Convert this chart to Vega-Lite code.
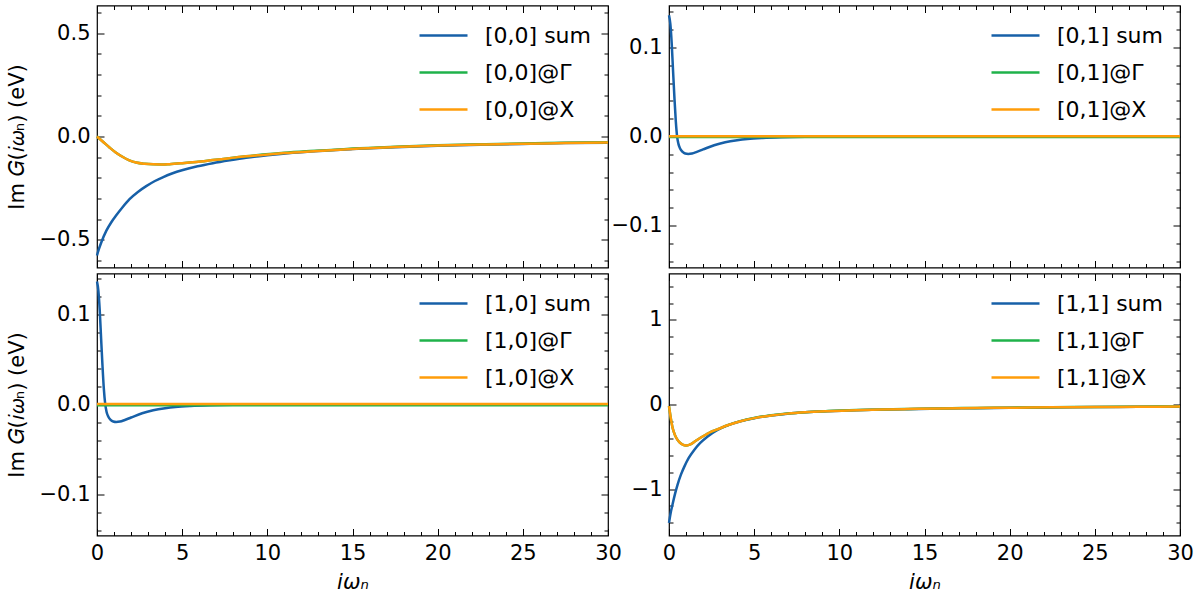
{
  "$schema": "https://vega.github.io/schema/vega-lite/v6.json",
  "padding": {"left": 5, "top": 3.5, "right": 5, "bottom": 5},
  "config": {
    "font": "DejaVu Sans",
    "view": {"stroke": "black", "strokeWidth": 1.2},
    "axis": {
      "domain": false, "grid": false,
      "tickColor": "black", "tickWidth": 1,
      "labelFont": "DejaVu Sans", "labelFontSize": 21, "labelColor": "black",
      "labelPadding": 14, "labelFlush": false, "labelOverlap": false, "labelBound": false,
      "titleFont": "DejaVu Sans", "titleFontSize": 21, "titleFontWeight": "normal", "titleColor": "black"
    },
    "legend": {
      "orient": "none", "legendX": 321, "legendY": 4.5, "padding": 0,
      "labelFont": "DejaVu Sans", "labelFontSize": 22, "labelColor": "black",
      "symbolType": "stroke", "symbolStrokeWidth": 2.5, "symbolSize": 2304,
      "labelOffset": 16, "rowPadding": 0
    }
  },
  "data": {
    "values": [
      {"p": "00", "s": "[0,0] sum", "x": 0, "y": -0.575},
      {"p": "00", "s": "[0,0] sum", "x": 0.1, "y": -0.547},
      {"p": "00", "s": "[0,0] sum", "x": 0.25, "y": -0.512},
      {"p": "00", "s": "[0,0] sum", "x": 0.55, "y": -0.455},
      {"p": "00", "s": "[0,0] sum", "x": 0.85, "y": -0.413},
      {"p": "00", "s": "[0,0] sum", "x": 1.13, "y": -0.381},
      {"p": "00", "s": "[0,0] sum", "x": 1.5, "y": -0.342},
      {"p": "00", "s": "[0,0] sum", "x": 1.91, "y": -0.303},
      {"p": "00", "s": "[0,0] sum", "x": 2.4, "y": -0.268},
      {"p": "00", "s": "[0,0] sum", "x": 2.89, "y": -0.24},
      {"p": "00", "s": "[0,0] sum", "x": 3.4, "y": -0.215},
      {"p": "00", "s": "[0,0] sum", "x": 3.86, "y": -0.197},
      {"p": "00", "s": "[0,0] sum", "x": 4.4, "y": -0.179},
      {"p": "00", "s": "[0,0] sum", "x": 5.04, "y": -0.162},
      {"p": "00", "s": "[0,0] sum", "x": 5.9, "y": -0.144},
      {"p": "00", "s": "[0,0] sum", "x": 6.8, "y": -0.129},
      {"p": "00", "s": "[0,0] sum", "x": 7.8, "y": -0.115},
      {"p": "00", "s": "[0,0] sum", "x": 8.75, "y": -0.103},
      {"p": "00", "s": "[0,0] sum", "x": 10, "y": -0.091},
      {"p": "00", "s": "[0,0] sum", "x": 11.5, "y": -0.079},
      {"p": "00", "s": "[0,0] sum", "x": 13, "y": -0.07},
      {"p": "00", "s": "[0,0] sum", "x": 15, "y": -0.061},
      {"p": "00", "s": "[0,0] sum", "x": 17.5, "y": -0.052},
      {"p": "00", "s": "[0,0] sum", "x": 20, "y": -0.045},
      {"p": "00", "s": "[0,0] sum", "x": 22.5, "y": -0.04},
      {"p": "00", "s": "[0,0] sum", "x": 25, "y": -0.036},
      {"p": "00", "s": "[0,0] sum", "x": 27.5, "y": -0.032},
      {"p": "00", "s": "[0,0] sum", "x": 30, "y": -0.03},

      {"p": "00", "s": "[0,0]@Γ", "x": 0, "y": 0},
      {"p": "00", "s": "[0,0]@Γ", "x": 0.4, "y": -0.029},
      {"p": "00", "s": "[0,0]@Γ", "x": 0.75, "y": -0.054},
      {"p": "00", "s": "[0,0]@Γ", "x": 1.1, "y": -0.077},
      {"p": "00", "s": "[0,0]@Γ", "x": 1.52, "y": -0.099},
      {"p": "00", "s": "[0,0]@Γ", "x": 1.9, "y": -0.115},
      {"p": "00", "s": "[0,0]@Γ", "x": 2.3, "y": -0.126},
      {"p": "00", "s": "[0,0]@Γ", "x": 2.8, "y": -0.132},
      {"p": "00", "s": "[0,0]@Γ", "x": 3.3, "y": -0.1345},
      {"p": "00", "s": "[0,0]@Γ", "x": 3.8, "y": -0.135},
      {"p": "00", "s": "[0,0]@Γ", "x": 4.25, "y": -0.1335},
      {"p": "00", "s": "[0,0]@Γ", "x": 5, "y": -0.129},
      {"p": "00", "s": "[0,0]@Γ", "x": 5.82, "y": -0.123},
      {"p": "00", "s": "[0,0]@Γ", "x": 6.8, "y": -0.114},
      {"p": "00", "s": "[0,0]@Γ", "x": 7.77, "y": -0.105},
      {"p": "00", "s": "[0,0]@Γ", "x": 8.75, "y": -0.096},
      {"p": "00", "s": "[0,0]@Γ", "x": 9.72, "y": -0.0875},
      {"p": "00", "s": "[0,0]@Γ", "x": 11, "y": -0.0785},
      {"p": "00", "s": "[0,0]@Γ", "x": 12.5, "y": -0.0705},
      {"p": "00", "s": "[0,0]@Γ", "x": 14, "y": -0.0635},
      {"p": "00", "s": "[0,0]@Γ", "x": 15, "y": -0.0585},
      {"p": "00", "s": "[0,0]@Γ", "x": 17.5, "y": -0.0495},
      {"p": "00", "s": "[0,0]@Γ", "x": 20, "y": -0.0425},
      {"p": "00", "s": "[0,0]@Γ", "x": 22.5, "y": -0.0375},
      {"p": "00", "s": "[0,0]@Γ", "x": 25, "y": -0.0335},
      {"p": "00", "s": "[0,0]@Γ", "x": 27.5, "y": -0.0305},
      {"p": "00", "s": "[0,0]@Γ", "x": 30, "y": -0.0275},

      {"p": "00", "s": "[0,0]@X", "x": 0, "y": 0},
      {"p": "00", "s": "[0,0]@X", "x": 0.4, "y": -0.029},
      {"p": "00", "s": "[0,0]@X", "x": 0.75, "y": -0.054},
      {"p": "00", "s": "[0,0]@X", "x": 1.1, "y": -0.077},
      {"p": "00", "s": "[0,0]@X", "x": 1.52, "y": -0.099},
      {"p": "00", "s": "[0,0]@X", "x": 1.9, "y": -0.115},
      {"p": "00", "s": "[0,0]@X", "x": 2.3, "y": -0.126},
      {"p": "00", "s": "[0,0]@X", "x": 2.8, "y": -0.132},
      {"p": "00", "s": "[0,0]@X", "x": 3.3, "y": -0.1345},
      {"p": "00", "s": "[0,0]@X", "x": 3.8, "y": -0.135},
      {"p": "00", "s": "[0,0]@X", "x": 4.25, "y": -0.1335},
      {"p": "00", "s": "[0,0]@X", "x": 5, "y": -0.129},
      {"p": "00", "s": "[0,0]@X", "x": 5.82, "y": -0.123},
      {"p": "00", "s": "[0,0]@X", "x": 6.8, "y": -0.114},
      {"p": "00", "s": "[0,0]@X", "x": 7.77, "y": -0.105},
      {"p": "00", "s": "[0,0]@X", "x": 8.75, "y": -0.096},
      {"p": "00", "s": "[0,0]@X", "x": 9.72, "y": -0.089},
      {"p": "00", "s": "[0,0]@X", "x": 11, "y": -0.08},
      {"p": "00", "s": "[0,0]@X", "x": 12.5, "y": -0.072},
      {"p": "00", "s": "[0,0]@X", "x": 14, "y": -0.065},
      {"p": "00", "s": "[0,0]@X", "x": 15, "y": -0.06},
      {"p": "00", "s": "[0,0]@X", "x": 17.5, "y": -0.051},
      {"p": "00", "s": "[0,0]@X", "x": 20, "y": -0.044},
      {"p": "00", "s": "[0,0]@X", "x": 22.5, "y": -0.039},
      {"p": "00", "s": "[0,0]@X", "x": 25, "y": -0.035},
      {"p": "00", "s": "[0,0]@X", "x": 27.5, "y": -0.032},
      {"p": "00", "s": "[0,0]@X", "x": 30, "y": -0.029},

      {"p": "01", "s": "[0,1] sum", "x": 0, "y": 0.136},
      {"p": "01", "s": "[0,1] sum", "x": 0.08, "y": 0.126},
      {"p": "01", "s": "[0,1] sum", "x": 0.16, "y": 0.104},
      {"p": "01", "s": "[0,1] sum", "x": 0.24, "y": 0.073},
      {"p": "01", "s": "[0,1] sum", "x": 0.32, "y": 0.043},
      {"p": "01", "s": "[0,1] sum", "x": 0.4, "y": 0.017},
      {"p": "01", "s": "[0,1] sum", "x": 0.47, "y": 0.001},
      {"p": "01", "s": "[0,1] sum", "x": 0.55, "y": -0.008},
      {"p": "01", "s": "[0,1] sum", "x": 0.65, "y": -0.0135},
      {"p": "01", "s": "[0,1] sum", "x": 0.8, "y": -0.0172},
      {"p": "01", "s": "[0,1] sum", "x": 0.95, "y": -0.019},
      {"p": "01", "s": "[0,1] sum", "x": 1.13, "y": -0.0195},
      {"p": "01", "s": "[0,1] sum", "x": 1.35, "y": -0.019},
      {"p": "01", "s": "[0,1] sum", "x": 1.6, "y": -0.0175},
      {"p": "01", "s": "[0,1] sum", "x": 2, "y": -0.0145},
      {"p": "01", "s": "[0,1] sum", "x": 2.65, "y": -0.0098},
      {"p": "01", "s": "[0,1] sum", "x": 3.3, "y": -0.0065},
      {"p": "01", "s": "[0,1] sum", "x": 4, "y": -0.0042},
      {"p": "01", "s": "[0,1] sum", "x": 4.6, "y": -0.0028},
      {"p": "01", "s": "[0,1] sum", "x": 5.5, "y": -0.0016},
      {"p": "01", "s": "[0,1] sum", "x": 6.6, "y": -0.0008},
      {"p": "01", "s": "[0,1] sum", "x": 8, "y": -0.0003},
      {"p": "01", "s": "[0,1] sum", "x": 10, "y": -0.0001},
      {"p": "01", "s": "[0,1] sum", "x": 15, "y": 0},
      {"p": "01", "s": "[0,1] sum", "x": 20, "y": 0},
      {"p": "01", "s": "[0,1] sum", "x": 25, "y": 0},
      {"p": "01", "s": "[0,1] sum", "x": 30, "y": 0},
      {"p": "01", "s": "[0,1]@Γ", "x": 0, "y": -0.0007},
      {"p": "01", "s": "[0,1]@Γ", "x": 10, "y": -0.0007},
      {"p": "01", "s": "[0,1]@Γ", "x": 20, "y": -0.0007},
      {"p": "01", "s": "[0,1]@Γ", "x": 30, "y": -0.0007},
      {"p": "01", "s": "[0,1]@X", "x": 0, "y": 0.0003},
      {"p": "01", "s": "[0,1]@X", "x": 10, "y": 0.0003},
      {"p": "01", "s": "[0,1]@X", "x": 20, "y": 0.0003},
      {"p": "01", "s": "[0,1]@X", "x": 30, "y": 0.0003},

      {"p": "10", "s": "[1,0] sum", "x": 0, "y": 0.137},
      {"p": "10", "s": "[1,0] sum", "x": 0.08, "y": 0.127},
      {"p": "10", "s": "[1,0] sum", "x": 0.16, "y": 0.105},
      {"p": "10", "s": "[1,0] sum", "x": 0.24, "y": 0.074},
      {"p": "10", "s": "[1,0] sum", "x": 0.32, "y": 0.044},
      {"p": "10", "s": "[1,0] sum", "x": 0.4, "y": 0.018},
      {"p": "10", "s": "[1,0] sum", "x": 0.48, "y": 0.001},
      {"p": "10", "s": "[1,0] sum", "x": 0.56, "y": -0.008},
      {"p": "10", "s": "[1,0] sum", "x": 0.66, "y": -0.0135},
      {"p": "10", "s": "[1,0] sum", "x": 0.8, "y": -0.0172},
      {"p": "10", "s": "[1,0] sum", "x": 0.95, "y": -0.019},
      {"p": "10", "s": "[1,0] sum", "x": 1.13, "y": -0.0195},
      {"p": "10", "s": "[1,0] sum", "x": 1.35, "y": -0.019},
      {"p": "10", "s": "[1,0] sum", "x": 1.6, "y": -0.0175},
      {"p": "10", "s": "[1,0] sum", "x": 2, "y": -0.0145},
      {"p": "10", "s": "[1,0] sum", "x": 2.65, "y": -0.0098},
      {"p": "10", "s": "[1,0] sum", "x": 3.3, "y": -0.0065},
      {"p": "10", "s": "[1,0] sum", "x": 4, "y": -0.0042},
      {"p": "10", "s": "[1,0] sum", "x": 4.6, "y": -0.0028},
      {"p": "10", "s": "[1,0] sum", "x": 5.5, "y": -0.0016},
      {"p": "10", "s": "[1,0] sum", "x": 6.6, "y": -0.0008},
      {"p": "10", "s": "[1,0] sum", "x": 8, "y": -0.0003},
      {"p": "10", "s": "[1,0] sum", "x": 10, "y": -0.0001},
      {"p": "10", "s": "[1,0] sum", "x": 15, "y": 0},
      {"p": "10", "s": "[1,0] sum", "x": 20, "y": 0},
      {"p": "10", "s": "[1,0] sum", "x": 25, "y": 0},
      {"p": "10", "s": "[1,0] sum", "x": 30, "y": 0},
      {"p": "10", "s": "[1,0]@Γ", "x": 0, "y": -0.0009},
      {"p": "10", "s": "[1,0]@Γ", "x": 10, "y": -0.0009},
      {"p": "10", "s": "[1,0]@Γ", "x": 20, "y": -0.0009},
      {"p": "10", "s": "[1,0]@Γ", "x": 30, "y": -0.0009},
      {"p": "10", "s": "[1,0]@X", "x": 0, "y": 0.0005},
      {"p": "10", "s": "[1,0]@X", "x": 10, "y": 0.0005},
      {"p": "10", "s": "[1,0]@X", "x": 20, "y": 0.0005},
      {"p": "10", "s": "[1,0]@X", "x": 30, "y": 0.0005},

      {"p": "11", "s": "[1,1] sum", "x": 0, "y": -1.4},
      {"p": "11", "s": "[1,1] sum", "x": 0.1, "y": -1.28},
      {"p": "11", "s": "[1,1] sum", "x": 0.21, "y": -1.18},
      {"p": "11", "s": "[1,1] sum", "x": 0.35, "y": -1.06},
      {"p": "11", "s": "[1,1] sum", "x": 0.5, "y": -0.95},
      {"p": "11", "s": "[1,1] sum", "x": 0.7, "y": -0.83},
      {"p": "11", "s": "[1,1] sum", "x": 0.9, "y": -0.735},
      {"p": "11", "s": "[1,1] sum", "x": 1.15, "y": -0.635},
      {"p": "11", "s": "[1,1] sum", "x": 1.48, "y": -0.537},
      {"p": "11", "s": "[1,1] sum", "x": 1.85, "y": -0.452},
      {"p": "11", "s": "[1,1] sum", "x": 2.27, "y": -0.378},
      {"p": "11", "s": "[1,1] sum", "x": 2.8, "y": -0.307},
      {"p": "11", "s": "[1,1] sum", "x": 3.44, "y": -0.248},
      {"p": "11", "s": "[1,1] sum", "x": 4.2, "y": -0.199},
      {"p": "11", "s": "[1,1] sum", "x": 5, "y": -0.162},
      {"p": "11", "s": "[1,1] sum", "x": 6, "y": -0.13},
      {"p": "11", "s": "[1,1] sum", "x": 6.95, "y": -0.109},
      {"p": "11", "s": "[1,1] sum", "x": 8, "y": -0.093},
      {"p": "11", "s": "[1,1] sum", "x": 9.3, "y": -0.08},
      {"p": "11", "s": "[1,1] sum", "x": 11, "y": -0.068},
      {"p": "11", "s": "[1,1] sum", "x": 12.5, "y": -0.061},
      {"p": "11", "s": "[1,1] sum", "x": 14, "y": -0.055},
      {"p": "11", "s": "[1,1] sum", "x": 16, "y": -0.048},
      {"p": "11", "s": "[1,1] sum", "x": 18, "y": -0.043},
      {"p": "11", "s": "[1,1] sum", "x": 20, "y": -0.039},
      {"p": "11", "s": "[1,1] sum", "x": 22.5, "y": -0.035},
      {"p": "11", "s": "[1,1] sum", "x": 25, "y": -0.031},
      {"p": "11", "s": "[1,1] sum", "x": 27.5, "y": -0.028},
      {"p": "11", "s": "[1,1] sum", "x": 30, "y": -0.026},

      {"p": "11", "s": "[1,1]@Γ", "x": 0, "y": -0.02},
      {"p": "11", "s": "[1,1]@Γ", "x": 0.1, "y": -0.155},
      {"p": "11", "s": "[1,1]@Γ", "x": 0.21, "y": -0.275},
      {"p": "11", "s": "[1,1]@Γ", "x": 0.35, "y": -0.362},
      {"p": "11", "s": "[1,1]@Γ", "x": 0.5, "y": -0.418},
      {"p": "11", "s": "[1,1]@Γ", "x": 0.7, "y": -0.462},
      {"p": "11", "s": "[1,1]@Γ", "x": 0.9, "y": -0.482},
      {"p": "11", "s": "[1,1]@Γ", "x": 1.05, "y": -0.485},
      {"p": "11", "s": "[1,1]@Γ", "x": 1.29, "y": -0.468},
      {"p": "11", "s": "[1,1]@Γ", "x": 1.55, "y": -0.432},
      {"p": "11", "s": "[1,1]@Γ", "x": 1.87, "y": -0.39},
      {"p": "11", "s": "[1,1]@Γ", "x": 2.2, "y": -0.352},
      {"p": "11", "s": "[1,1]@Γ", "x": 2.46, "y": -0.325},
      {"p": "11", "s": "[1,1]@Γ", "x": 2.8, "y": -0.298},
      {"p": "11", "s": "[1,1]@Γ", "x": 3.44, "y": -0.245},
      {"p": "11", "s": "[1,1]@Γ", "x": 4.2, "y": -0.197},
      {"p": "11", "s": "[1,1]@Γ", "x": 5, "y": -0.16},
      {"p": "11", "s": "[1,1]@Γ", "x": 6, "y": -0.128},
      {"p": "11", "s": "[1,1]@Γ", "x": 6.95, "y": -0.107},
      {"p": "11", "s": "[1,1]@Γ", "x": 8, "y": -0.091},
      {"p": "11", "s": "[1,1]@Γ", "x": 9.3, "y": -0.078},
      {"p": "11", "s": "[1,1]@Γ", "x": 11, "y": -0.066},
      {"p": "11", "s": "[1,1]@Γ", "x": 12.5, "y": -0.059},
      {"p": "11", "s": "[1,1]@Γ", "x": 14, "y": -0.053},
      {"p": "11", "s": "[1,1]@Γ", "x": 16, "y": -0.046},
      {"p": "11", "s": "[1,1]@Γ", "x": 18, "y": -0.041},
      {"p": "11", "s": "[1,1]@Γ", "x": 20, "y": -0.037},
      {"p": "11", "s": "[1,1]@Γ", "x": 22.5, "y": -0.033},
      {"p": "11", "s": "[1,1]@Γ", "x": 25, "y": -0.029},
      {"p": "11", "s": "[1,1]@Γ", "x": 27.5, "y": -0.026},
      {"p": "11", "s": "[1,1]@Γ", "x": 30, "y": -0.024},

      {"p": "11", "s": "[1,1]@X", "x": 0, "y": -0.02},
      {"p": "11", "s": "[1,1]@X", "x": 0.1, "y": -0.155},
      {"p": "11", "s": "[1,1]@X", "x": 0.21, "y": -0.275},
      {"p": "11", "s": "[1,1]@X", "x": 0.35, "y": -0.362},
      {"p": "11", "s": "[1,1]@X", "x": 0.5, "y": -0.418},
      {"p": "11", "s": "[1,1]@X", "x": 0.7, "y": -0.462},
      {"p": "11", "s": "[1,1]@X", "x": 0.9, "y": -0.482},
      {"p": "11", "s": "[1,1]@X", "x": 1.05, "y": -0.485},
      {"p": "11", "s": "[1,1]@X", "x": 1.29, "y": -0.468},
      {"p": "11", "s": "[1,1]@X", "x": 1.55, "y": -0.432},
      {"p": "11", "s": "[1,1]@X", "x": 1.87, "y": -0.39},
      {"p": "11", "s": "[1,1]@X", "x": 2.2, "y": -0.352},
      {"p": "11", "s": "[1,1]@X", "x": 2.46, "y": -0.325},
      {"p": "11", "s": "[1,1]@X", "x": 2.8, "y": -0.298},
      {"p": "11", "s": "[1,1]@X", "x": 3.44, "y": -0.246},
      {"p": "11", "s": "[1,1]@X", "x": 4.2, "y": -0.198},
      {"p": "11", "s": "[1,1]@X", "x": 5, "y": -0.161},
      {"p": "11", "s": "[1,1]@X", "x": 6, "y": -0.129},
      {"p": "11", "s": "[1,1]@X", "x": 6.95, "y": -0.108},
      {"p": "11", "s": "[1,1]@X", "x": 8, "y": -0.092},
      {"p": "11", "s": "[1,1]@X", "x": 9.3, "y": -0.079},
      {"p": "11", "s": "[1,1]@X", "x": 11, "y": -0.067},
      {"p": "11", "s": "[1,1]@X", "x": 12.5, "y": -0.06},
      {"p": "11", "s": "[1,1]@X", "x": 14, "y": -0.054},
      {"p": "11", "s": "[1,1]@X", "x": 16, "y": -0.047},
      {"p": "11", "s": "[1,1]@X", "x": 18, "y": -0.042},
      {"p": "11", "s": "[1,1]@X", "x": 20, "y": -0.038},
      {"p": "11", "s": "[1,1]@X", "x": 22.5, "y": -0.034},
      {"p": "11", "s": "[1,1]@X", "x": 25, "y": -0.03},
      {"p": "11", "s": "[1,1]@X", "x": 27.5, "y": -0.027},
      {"p": "11", "s": "[1,1]@X", "x": 30, "y": -0.025}
    ]
  },
  "columns": 2,
  "spacing": {"row": 6, "column": 61},
  "bounds": "flush",
  "resolve": {"scale": {"color": "independent"}},
  "concat": [
    {
      "width": 511, "height": 262,
      "transform": [{"filter": "datum.p === '00'"}],
      "resolve": {"axis": {"x": "independent", "y": "independent"}},
      "layer": [
        {
          "mark": {"type": "line", "strokeWidth": 2.5, "interpolate": "monotone"},
          "encoding": {
            "x": {"field": "x", "type": "quantitative", "scale": {"domain": [0, 30], "nice": false},
                  "axis": {"orient": "bottom", "values": [0, 5, 10, 15, 20, 25, 30], "tickSize": -7, "labels": false, "title": null}},
            "y": {"field": "y", "type": "quantitative", "scale": {"domain": [-0.633, 0.633], "nice": false, "zero": false},
                  "axis": {"orient": "left", "values": [-0.5, 0, 0.5], "tickSize": -7, "format": ".1f", "title": "Im 𝐺(𝑖𝜔ₙ) (eV)", "titlePadding": 12}},
            "color": {"field": "s", "type": "nominal",
                      "scale": {"domain": ["[0,0] sum", "[0,0]@Γ", "[0,0]@X"], "range": ["#1760a8", "#1fb24a", "#ff9c0a"]},
                      "legend": {"title": null}}
          }
        },
        {
          "mark": {"type": "line", "opacity": 0},
          "encoding": {
            "x": {"field": "x", "type": "quantitative", "axis": {"orient": "bottom", "values": [1, 2, 3, 4, 6, 7, 8, 9, 11, 12, 13, 14, 16, 17, 18, 19, 21, 22, 23, 24, 26, 27, 28, 29], "tickSize": -4, "labels": false, "title": null}},
            "y": {"field": "y", "type": "quantitative", "axis": {"orient": "left", "values": [-0.6, -0.4, -0.3, -0.2, -0.1, 0.1, 0.2, 0.3, 0.4, 0.6], "tickSize": -4, "labels": false, "title": null}}
          }
        },
        {
          "mark": {"type": "line", "opacity": 0},
          "encoding": {
            "x": {"field": "x", "type": "quantitative", "axis": {"orient": "top", "values": [0, 5, 10, 15, 20, 25, 30], "tickSize": -7, "labels": false, "title": null}},
            "y": {"field": "y", "type": "quantitative", "axis": {"orient": "right", "values": [-0.5, 0, 0.5], "tickSize": -7, "labels": false, "title": null}}
          }
        },
        {
          "mark": {"type": "line", "opacity": 0},
          "encoding": {
            "x": {"field": "x", "type": "quantitative", "axis": {"orient": "top", "values": [1, 2, 3, 4, 6, 7, 8, 9, 11, 12, 13, 14, 16, 17, 18, 19, 21, 22, 23, 24, 26, 27, 28, 29], "tickSize": -4, "labels": false, "title": null}},
            "y": {"field": "y", "type": "quantitative", "axis": {"orient": "right", "values": [-0.6, -0.4, -0.3, -0.2, -0.1, 0.1, 0.2, 0.3, 0.4, 0.6], "tickSize": -4, "labels": false, "title": null}}
          }
        }
      ]
    },
    {
      "width": 511, "height": 262,
      "transform": [{"filter": "datum.p === '01'"}],
      "resolve": {"axis": {"x": "independent", "y": "independent"}},
      "layer": [
        {
          "mark": {"type": "line", "strokeWidth": 2.5, "interpolate": "monotone"},
          "encoding": {
            "x": {"field": "x", "type": "quantitative", "scale": {"domain": [0, 30], "nice": false},
                  "axis": {"orient": "bottom", "values": [0, 5, 10, 15, 20, 25, 30], "tickSize": -7, "labels": false, "title": null}},
            "y": {"field": "y", "type": "quantitative", "scale": {"domain": [-0.147, 0.147], "nice": false, "zero": false},
                  "axis": {"orient": "left", "values": [-0.1, 0, 0.1], "tickSize": -7, "format": ".1f", "title": null}},
            "color": {"field": "s", "type": "nominal",
                      "scale": {"domain": ["[0,1] sum", "[0,1]@Γ", "[0,1]@X"], "range": ["#1760a8", "#1fb24a", "#ff9c0a"]},
                      "legend": {"title": null}}
          }
        },
        {
          "mark": {"type": "line", "opacity": 0},
          "encoding": {
            "x": {"field": "x", "type": "quantitative", "axis": {"orient": "bottom", "values": [1, 2, 3, 4, 6, 7, 8, 9, 11, 12, 13, 14, 16, 17, 18, 19, 21, 22, 23, 24, 26, 27, 28, 29], "tickSize": -4, "labels": false, "title": null}},
            "y": {"field": "y", "type": "quantitative", "axis": {"orient": "left", "values": [-0.14, -0.12, -0.08, -0.06, -0.04, -0.02, 0.02, 0.04, 0.06, 0.08, 0.12, 0.14], "tickSize": -4, "labels": false, "title": null}}
          }
        },
        {
          "mark": {"type": "line", "opacity": 0},
          "encoding": {
            "x": {"field": "x", "type": "quantitative", "axis": {"orient": "top", "values": [0, 5, 10, 15, 20, 25, 30], "tickSize": -7, "labels": false, "title": null}},
            "y": {"field": "y", "type": "quantitative", "axis": {"orient": "right", "values": [-0.1, 0, 0.1], "tickSize": -7, "labels": false, "title": null}}
          }
        },
        {
          "mark": {"type": "line", "opacity": 0},
          "encoding": {
            "x": {"field": "x", "type": "quantitative", "axis": {"orient": "top", "values": [1, 2, 3, 4, 6, 7, 8, 9, 11, 12, 13, 14, 16, 17, 18, 19, 21, 22, 23, 24, 26, 27, 28, 29], "tickSize": -4, "labels": false, "title": null}},
            "y": {"field": "y", "type": "quantitative", "axis": {"orient": "right", "values": [-0.14, -0.12, -0.08, -0.06, -0.04, -0.02, 0.02, 0.04, 0.06, 0.08, 0.12, 0.14], "tickSize": -4, "labels": false, "title": null}}
          }
        }
      ]
    },
    {
      "width": 511, "height": 262,
      "transform": [{"filter": "datum.p === '10'"}],
      "resolve": {"axis": {"x": "independent", "y": "independent"}},
      "layer": [
        {
          "mark": {"type": "line", "strokeWidth": 2.5, "interpolate": "monotone"},
          "encoding": {
            "x": {"field": "x", "type": "quantitative", "scale": {"domain": [0, 30], "nice": false},
                  "axis": {"orient": "bottom", "values": [0, 5, 10, 15, 20, 25, 30], "tickSize": -7, "format": "d", "title": "iωₙ", "titleFontStyle": "italic", "titlePadding": 8}},
            "y": {"field": "y", "type": "quantitative", "scale": {"domain": [-0.146, 0.146], "nice": false, "zero": false},
                  "axis": {"orient": "left", "values": [-0.1, 0, 0.1], "tickSize": -7, "format": ".1f", "title": "Im 𝐺(𝑖𝜔ₙ) (eV)", "titlePadding": 12}},
            "color": {"field": "s", "type": "nominal",
                      "scale": {"domain": ["[1,0] sum", "[1,0]@Γ", "[1,0]@X"], "range": ["#1760a8", "#1fb24a", "#ff9c0a"]},
                      "legend": {"title": null}}
          }
        },
        {
          "mark": {"type": "line", "opacity": 0},
          "encoding": {
            "x": {"field": "x", "type": "quantitative", "axis": {"orient": "bottom", "values": [1, 2, 3, 4, 6, 7, 8, 9, 11, 12, 13, 14, 16, 17, 18, 19, 21, 22, 23, 24, 26, 27, 28, 29], "tickSize": -4, "labels": false, "title": null}},
            "y": {"field": "y", "type": "quantitative", "axis": {"orient": "left", "values": [-0.14, -0.12, -0.08, -0.06, -0.04, -0.02, 0.02, 0.04, 0.06, 0.08, 0.12, 0.14], "tickSize": -4, "labels": false, "title": null}}
          }
        },
        {
          "mark": {"type": "line", "opacity": 0},
          "encoding": {
            "x": {"field": "x", "type": "quantitative", "axis": {"orient": "top", "values": [0, 5, 10, 15, 20, 25, 30], "tickSize": -7, "labels": false, "title": null}},
            "y": {"field": "y", "type": "quantitative", "axis": {"orient": "right", "values": [-0.1, 0, 0.1], "tickSize": -7, "labels": false, "title": null}}
          }
        },
        {
          "mark": {"type": "line", "opacity": 0},
          "encoding": {
            "x": {"field": "x", "type": "quantitative", "axis": {"orient": "top", "values": [1, 2, 3, 4, 6, 7, 8, 9, 11, 12, 13, 14, 16, 17, 18, 19, 21, 22, 23, 24, 26, 27, 28, 29], "tickSize": -4, "labels": false, "title": null}},
            "y": {"field": "y", "type": "quantitative", "axis": {"orient": "right", "values": [-0.14, -0.12, -0.08, -0.06, -0.04, -0.02, 0.02, 0.04, 0.06, 0.08, 0.12, 0.14], "tickSize": -4, "labels": false, "title": null}}
          }
        }
      ]
    },
    {
      "width": 511, "height": 262,
      "transform": [{"filter": "datum.p === '11'"}],
      "resolve": {"axis": {"x": "independent", "y": "independent"}},
      "layer": [
        {
          "mark": {"type": "line", "strokeWidth": 2.5, "interpolate": "monotone"},
          "encoding": {
            "x": {"field": "x", "type": "quantitative", "scale": {"domain": [0, 30], "nice": false},
                  "axis": {"orient": "bottom", "values": [0, 5, 10, 15, 20, 25, 30], "tickSize": -7, "format": "d", "title": "iωₙ", "titleFontStyle": "italic", "titlePadding": 8}},
            "y": {"field": "y", "type": "quantitative", "scale": {"domain": [-1.55, 1.55], "nice": false, "zero": false},
                  "axis": {"orient": "left", "values": [-1, 0, 1], "tickSize": -7, "format": "d", "title": null}},
            "color": {"field": "s", "type": "nominal",
                      "scale": {"domain": ["[1,1] sum", "[1,1]@Γ", "[1,1]@X"], "range": ["#1760a8", "#1fb24a", "#ff9c0a"]},
                      "legend": {"title": null}}
          }
        },
        {
          "mark": {"type": "line", "opacity": 0},
          "encoding": {
            "x": {"field": "x", "type": "quantitative", "axis": {"orient": "bottom", "values": [1, 2, 3, 4, 6, 7, 8, 9, 11, 12, 13, 14, 16, 17, 18, 19, 21, 22, 23, 24, 26, 27, 28, 29], "tickSize": -4, "labels": false, "title": null}},
            "y": {"field": "y", "type": "quantitative", "axis": {"orient": "left", "values": [-1.4, -1.2, -0.8, -0.6, -0.4, -0.2, 0.2, 0.4, 0.6, 0.8, 1.2, 1.4], "tickSize": -4, "labels": false, "title": null}}
          }
        },
        {
          "mark": {"type": "line", "opacity": 0},
          "encoding": {
            "x": {"field": "x", "type": "quantitative", "axis": {"orient": "top", "values": [0, 5, 10, 15, 20, 25, 30], "tickSize": -7, "labels": false, "title": null}},
            "y": {"field": "y", "type": "quantitative", "axis": {"orient": "right", "values": [-1, 0, 1], "tickSize": -7, "labels": false, "title": null}}
          }
        },
        {
          "mark": {"type": "line", "opacity": 0},
          "encoding": {
            "x": {"field": "x", "type": "quantitative", "axis": {"orient": "top", "values": [1, 2, 3, 4, 6, 7, 8, 9, 11, 12, 13, 14, 16, 17, 18, 19, 21, 22, 23, 24, 26, 27, 28, 29], "tickSize": -4, "labels": false, "title": null}},
            "y": {"field": "y", "type": "quantitative", "axis": {"orient": "right", "values": [-1.4, -1.2, -0.8, -0.6, -0.4, -0.2, 0.2, 0.4, 0.6, 0.8, 1.2, 1.4], "tickSize": -4, "labels": false, "title": null}}
          }
        }
      ]
    }
  ]
}
